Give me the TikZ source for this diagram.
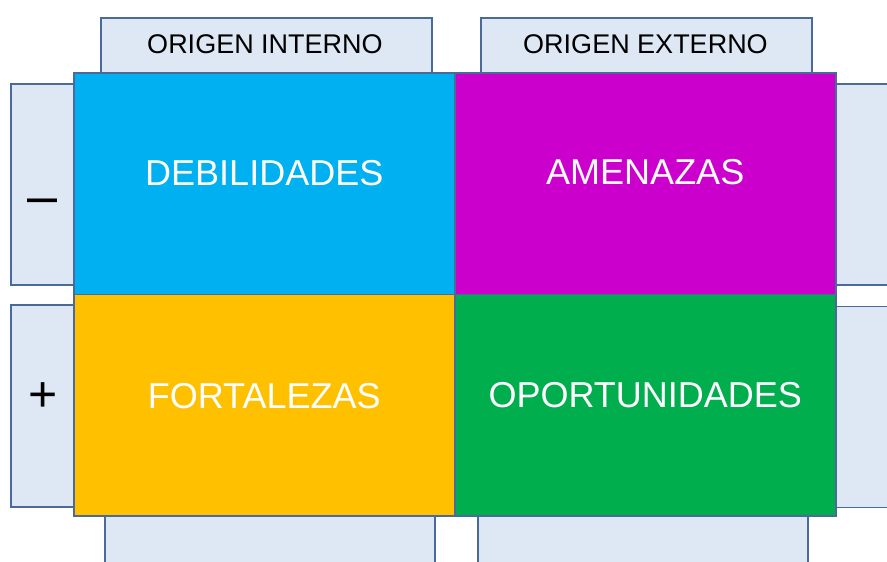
\documentclass[tikz,border=0pt]{standalone}
\usepackage{fontspec}
\setmainfont{Liberation Sans}
\definecolor{edge}{HTML}{4A6A9C}
\definecolor{pale}{HTML}{DDE8F4}
\definecolor{cblue}{HTML}{00B0F0}
\definecolor{cmag}{HTML}{CC00CC}
\definecolor{corange}{HTML}{FFC000}
\definecolor{cgreen}{HTML}{00AE4E}
\begin{document}
\begin{tikzpicture}[x=1pt,y=-1pt,
  side/.style={draw=edge,fill=pale,line width=1.5pt,inner sep=0pt,anchor=north west},
  cell/.style={draw=edge,line width=1.5pt,inner sep=0pt,anchor=north west,minimum width=381pt,minimum height=221.5pt},
  big/.style={text=white,font=\fontsize{36}{40}\selectfont},
  head/.style={font=\fontsize{27}{30}\selectfont}]
\useasboundingbox (0,0) rectangle (887,562);
\clip (0,0) rectangle (887,562);
% side boxes
\node[side,minimum width=331pt,minimum height=60pt] (ti) at (100,17) {};
\node[side,minimum width=331pt,minimum height=60pt] (te) at (480,17) {};
\node[side,minimum width=68pt,minimum height=201pt] (lm) at (10,83) {};
\node[side,minimum width=68pt,minimum height=202pt] (lp) at (10,304) {};
\node[side,minimum width=70pt,minimum height=201pt] (rm) at (830,83) {};
\node[side,minimum width=70pt,minimum height=201pt] (rp) at (830,305.5) {};
\node[side,minimum width=330pt,minimum height=60pt] (bi) at (104,510) {};
\node[side,minimum width=330pt,minimum height=60pt] (be) at (477,510) {};
% grid cells
\node[cell,fill=cblue] (deb) at (73,72) {};
\node[cell,fill=cmag] (ame) at (454,72) {};
\node[cell,fill=corange] (for) at (73,293.5) {};
\node[cell,fill=cgreen] (opo) at (454,293.5) {};
% labels
\node[head] (tit) at (265,44.5) {ORIGEN INTERNO};
\node[head] (tet) at (645.5,44.5) {ORIGEN EXTERNO};
\node[big] (debt) at ([yshift=10]deb.center) {DEBILIDADES};
\node[big] (amet) at ([yshift=11]ame.center) {AMENAZAS};
\node[big] (fort) at ([yshift=9]for.center) {FORTALEZAS};
\node[big] (opot) at ([yshift=10]opo.center) {OPORTUNIDADES};
\node[font=\fontsize{54}{60}\selectfont] (mn) at (42.5,207) {–};
\node[font=\fontsize{50}{56}\selectfont] (pl) at (43,397) {+};
\end{tikzpicture}
\end{document}
